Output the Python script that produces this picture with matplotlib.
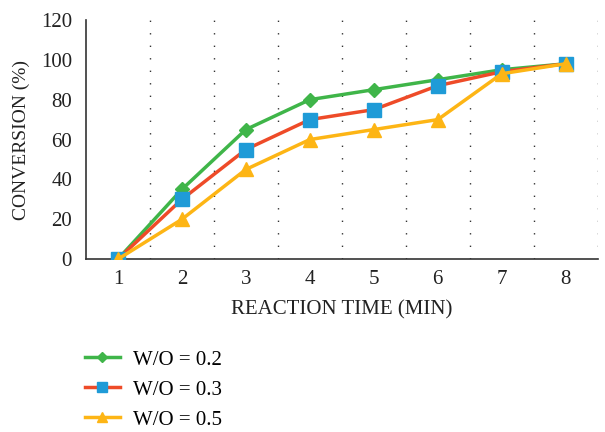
import matplotlib.pyplot as plt
from matplotlib.lines import Line2D

plt.rcParams['font.family'] = ['Liberation Serif', 'DejaVu Serif']

times = [1, 2, 3, 4, 5, 6, 7, 8]
wo_02 = [0, 35, 65, 80, 85, 90, 95, 98]
wo_03 = [0, 30, 55, 70, 75, 87, 94, 98]
wo_05 = [0, 20, 45, 60, 65, 70, 93, 98]

green = '#3fb549'
red = '#ee4b28'
blue = '#1f9bd7'
yellow = '#fdb515'

fig = plt.figure(figsize=(6.05, 4.32), dpi=100)
ax = fig.add_axes([0.142, 0.40, 0.846, 0.554])

ax.plot(times, wo_02, color=green, lw=2.5, marker='D', ms=7, mfc=green, mec=green, zorder=3)
ax.plot(times, wo_03, color=red, lw=2.5, marker='s', ms=10, mfc=blue, mec=blue, zorder=4)
ax.plot(times, wo_05, color=yellow, lw=2.5, marker='^', ms=10, mfc=yellow, mec=yellow, zorder=5)

ax.set_xlim(0.5, 8.5)
ax.set_ylim(0, 120)
ax.set_yticks(range(0, 121, 20))
ax.set_xticks(times)
ax.set_xticks([t + 0.5 for t in times], minor=True)
ax.grid(True, which='minor', axis='x', linestyle=(0, (1, 8)), color='#333333', lw=1)
ax.tick_params(which='both', length=0, labelsize=15, colors='#222222', pad=8)
ax.tick_params(axis='y', pad=10)

for s in ['top', 'right']:
    ax.spines[s].set_visible(False)
for s in ['left', 'bottom']:
    ax.spines[s].set_color('#333333')
    ax.spines[s].set_linewidth(1.2)

ax.set_xlabel('REACTION TIME (MIN)', fontsize=15, color='#222222', labelpad=8)
ax.set_ylabel('CONVERSION (%)', fontsize=14, color='#222222', labelpad=8)

handles = [
    Line2D([], [], color=green, lw=2.5, marker='D', ms=5, mfc=green, mec=green),
    Line2D([], [], color=red, lw=2.5, marker='s', ms=7, mfc=blue, mec=blue),
    Line2D([], [], color=yellow, lw=2.5, marker='^', ms=7, mfc=yellow, mec=yellow),
]
fig.legend(handles, ['W/O = 0.2', 'W/O = 0.3', 'W/O = 0.5'],
           loc='upper left', bbox_to_anchor=(0.14, 0.19), frameon=False,
           fontsize=15, handlelength=1.7, labelspacing=0.5, handletextpad=0.6,
           borderaxespad=0, borderpad=0)

fig.savefig('out.png', dpi=100)
